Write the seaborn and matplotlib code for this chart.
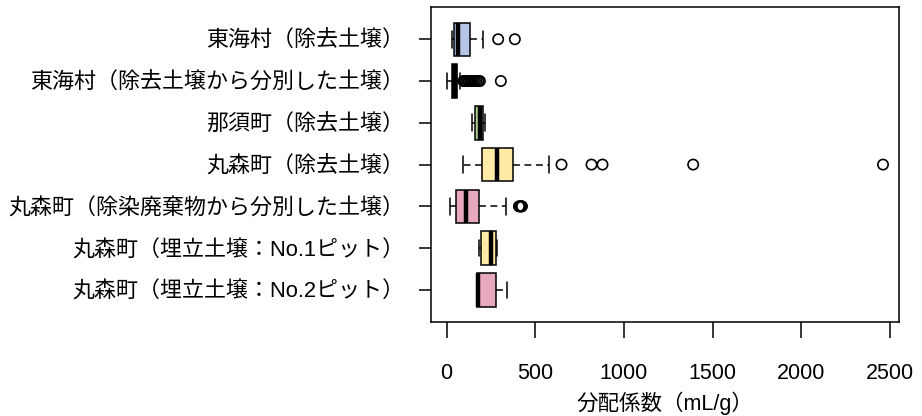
import matplotlib
matplotlib.use("Agg")
import matplotlib.pyplot as plt
import seaborn as sns
import pandas as pd

categories = [
    "東海村（除去土壌）",
    "東海村（除去土壌から分別した土壌）",
    "那須町（除去土壌）",
    "丸森町（除去土壌）",
    "丸森町（除染廃棄物から分別した土壌）",
    "丸森町（埋立土壌：No.1ピット）",
    "丸森町（埋立土壌：No.2ピット）",
]
whisker_low = [28, 3, 141, 90, 19, 182, 172]
quartile1 = [43, 32, 161, 201, 52, 197, 172]
median = [62, 45, 190, 283, 109, 250, 178]
quartile3 = [130, 60, 206, 375, 184, 278, 276]
whisker_high = [205, 75, 216, 576, 333, 282, 341]
outliers_0 = [291, 385]
outliers_1 = [95, 102, 110, 118, 126, 134, 142, 150, 160, 170, 180, 188, 306]
outliers_2 = []
outliers_3 = [648, 817, 879, 1390, 2460]
outliers_4 = [408, 413, 418, 422, 425]
outliers_5 = []
outliers_6 = []
box_colors = ["#b4c5e8", "#111111", "#a9d18e", "#ffeaa6", "#e8a8c0", "#ffeaa6", "#e8a8c0"]
x_ticks = [0, 500, 1000, 1500, 2000, 2500]
x_label = "分配係数（mL/g）"

outliers = [outliers_0, outliers_1, outliers_2, outliers_3, outliers_4, outliers_5, outliers_6]

sns.set_style("white")
plt.rcParams["font.family"] = ["Liberation Sans", "Noto Sans CJK JP", "DejaVu Sans"]
plt.rcParams["text.color"] = "black"
plt.rcParams["axes.labelcolor"] = "black"
plt.rcParams["xtick.color"] = "black"
plt.rcParams["ytick.color"] = "black"

fig = plt.figure(figsize=(9.22, 4.16), dpi=100)
ax = fig.add_axes([0.467, 0.2248, 0.9754 - 0.467, 0.984 - 0.2248])

positions = list(range(len(categories)))
stats = []
for i, name in enumerate(categories):
    stats.append(dict(label=name, whislo=whisker_low[i], q1=quartile1[i], med=median[i],
                      q3=quartile3[i], whishi=whisker_high[i], fliers=[]))

bp = ax.bxp(stats, positions=positions, widths=0.8, orientation="horizontal",
            patch_artist=True, showfliers=False, capwidths=0.4,
            boxprops=dict(edgecolor="black", linewidth=1.1),
            whiskerprops=dict(color="black", linewidth=1.1, linestyle=(0, (4.5, 3))),
            capprops=dict(color="black", linewidth=1.1),
            medianprops=dict(color="black", linewidth=3.2, solid_capstyle="butt"))
for patch, c in zip(bp["boxes"], box_colors):
    patch.set_facecolor(c)

rows = []
for i, vals in enumerate(outliers):
    for v in vals:
        rows.append({"value": v, "pos": i})
df_out = pd.DataFrame(rows)
sns.scatterplot(data=df_out, x="value", y="pos", ax=ax, marker="o", s=55,
                facecolors="none", edgecolor="black", linewidth=1.2, legend=False, zorder=5)

ax.set_xlim(-90, 2552)
ax.set_ylim(6.78, -0.78)
ax.set_xticks(x_ticks)
ax.set_xticklabels([str(t) for t in x_ticks])
ax.set_yticks(positions)
ax.set_yticklabels(categories)
ax.set_xlabel(x_label, fontsize=15.5, labelpad=5)
ax.set_ylabel("")
ax.tick_params(axis="x", length=11.5, width=1.1, pad=18, labelsize=15.5, color="black",
               labelcolor="black", bottom=True, left=False)
ax.tick_params(axis="y", length=9, width=1.1, pad=10, labelsize=15.8, color="black",
               labelcolor="black", left=True)
for s in ax.spines.values():
    s.set_visible(True)
    s.set_color("black")
    s.set_linewidth(1.1)
ax.grid(False)

fig.savefig("out.png", dpi=100)
